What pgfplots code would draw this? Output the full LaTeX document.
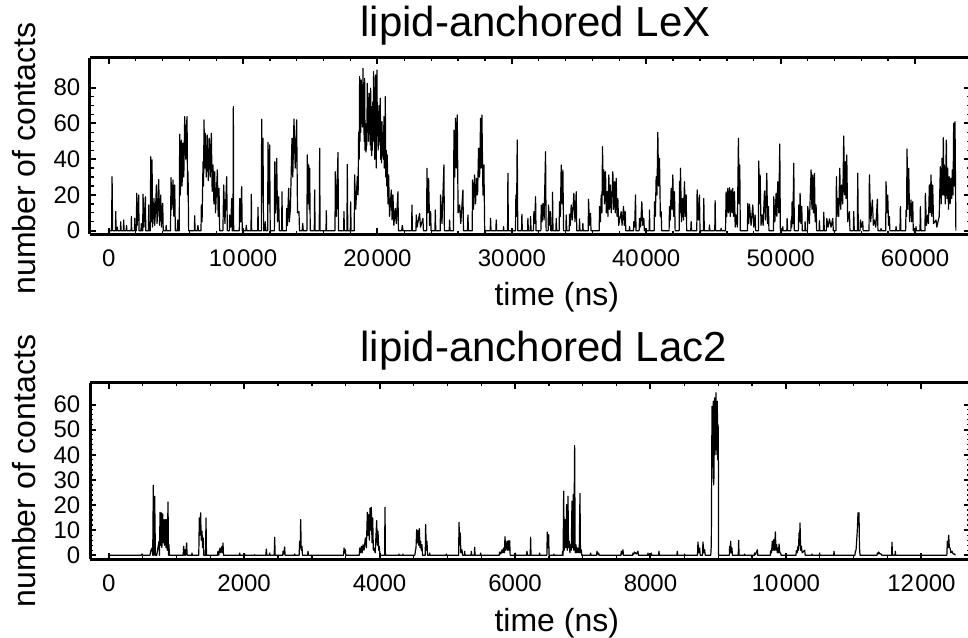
\documentclass[border=0pt]{standalone}
\usepackage{fontspec}
\setmainfont{Liberation Sans}
\usepackage{pgfplots}
\pgfplotsset{compat=1.18}
\pgfplotsset{
  mma/.style={
    scale only axis,
    width=880pt,
    anchor=south west,
    scaled x ticks=false, scaled y ticks=false,
    line width=3pt,
    separate axis lines,
    every outer x axis line/.append style={line width=3pt},
    every outer y axis line/.append style={line width=3pt},
    axis line style={line width=3pt},
    tick align=inside,
    major tick length=6pt,
    minor tick length=3.5pt,
    major tick style={line width=2pt,black},
    minor tick style={line width=1.3pt,black},
    tick label style={font=\fontsize{24}{24}\selectfont, inner sep=0pt},
    yticklabel style={anchor=east, xshift=-8.3pt},
    xticklabel style={anchor=north, yshift=-13.5pt},
    title style={anchor=base west, inner sep=0pt, font=\fontsize{42}{42}\selectfont},
    xlabel style={anchor=base west, inner sep=0pt, font=\fontsize{32}{32}\selectfont},
    ylabel style={anchor=base, inner sep=0pt, font=\fontsize{32}{32}\selectfont},
    xlabel={time (ns)},
    ylabel={number of contacts},
  },
  trace/.style={black, line width=1.2pt, line join=round, no markers},
}
\begin{document}
\begin{tikzpicture}
% ---------------- top panel ----------------
\begin{axis}[mma,
  at={(90pt,402.7pt)}, height=176.5pt,
  xmin=-1390, xmax=64092, ymin=-2.0, ymax=96.7,
  xtick={0,10000,20000,30000,40000,50000,60000},
  xticklabels={0,10\hspace{0.06em}000,20\hspace{0.06em}000,30\hspace{0.06em}000,40\hspace{0.06em}000,50\hspace{0.06em}000,60\hspace{0.06em}000},
  minor x tick num=4,
  ytick={0,20,40,60,80}, yticklabels={0,20,40,60,80},
  minor y tick num=3,
  title={lipid-anchored LeX},
  title style={at={(axis description cs:0.3057,1.0839)}},
  xlabel style={at={(axis description cs:0.458,-0.4006)}},
  ylabel style={at={(axis description cs:-0.0614,0.4295)}},
]
\addplot[trace] coordinates {
(0,0)(213,0)(253,30.2)(293,0)(500,0)(526,10.7)(552,0)(600,0)(640,2)(680,0)(870,0)(897,5)(924,0)(1095,0)(1120,6)(1145,0)(1300,0)(1330,3)(1360,0)(1665,0)(1690,8)(1715,0)(1914,0)(1939,7)(1964,0)(2060,0)(2087,20.9)(2120,3)(2236,20)(2260,0)(2400,0)(2430,4)(2460,0)(2530,0)(2558,20.4)(2620,2)(2732,19)(2760,0)(2955,0)(2980,14.4)(3000,0)(3100,0)(3128,41.4)(3170,5)(3228,39.6)(3260,2)(3300,8)(3376,18)(3420,3)(3480,10)(3550,25.6)(3600,4)(3650,12)(3724,28.7)(3780,3)(3820,9)(3872,20)(3930,2)(4021,15.3)(4060,0)(4250,0)(4280,3)(4310,0)(4600,0)(4640,29.7)(4700,12)(4789,28.4)(4850,8)(4913,25.6)(4960,0)(5100,0)(5140,6)(5180,0)(5250,0)(5285,54)(5330,20)(5409,50.7)(5460,25)(5533,48.9)(5590,30)(5657,63.8)(5730,40)(5760,55)(5831,63.8)(5870,20)(5905,33)(5950,0)(6380,0)(6401,8.4)(6430,0)(6600,0)(6640,3)(6680,0)(6870,0)(6897,14.4)(6950,5)(7021,38.6)(7060,25)(7095,62)(7140,35)(7194,54.5)(7260,30)(7343,53.5)(7410,28)(7492,51.7)(7560,30)(7640,54.5)(7700,22)(7764,36.8)(7830,15)(7888,33)(7950,10)(8087,34)(8150,8)(8211,23.7)(8260,0)(8500,0)(8558,25.6)(8650,4)(8781,30.2)(8830,0)(8980,0)(9004,8.8)(9080,2)(9153,18)(9200,0)(9250,0)(9277,69.4)(9300,0)(9720,0)(9748,18)(9820,5)(9896,24.6)(9940,0)(10200,0)(10240,3)(10280,0)(10590,0)(10615,20.4)(10640,0)(11085,0)(11111,13.1)(11140,0)(11360,0)(11384,62.3)(11430,20)(11483,51.7)(11520,0)(11600,0)(11650,5)(11700,0)(11830,0)(11855,49.4)(11910,15)(11979,48)(12020,0)(12330,0)(12351,38.6)(12420,10)(12500,40.5)(12570,5)(12648,19)(12700,0)(12870,0)(12896,21.8)(12930,0)(13220,0)(13243,12.5)(13300,3)(13392,23.7)(13440,5)(13520,12)(13640,51.7)(13700,30)(13788,62.5)(13880,35)(13987,62)(14050,10)(14160,10.7)(14200,0)(14400,0)(14440,4)(14480,0)(14750,0)(14780,42.4)(14830,15)(14879,36.8)(14920,12)(14955,34.9)(15000,0)(15300,0)(15327,22.8)(15360,0)(15670,0)(15699,46.1)(15730,0)(16170,0)(16194,11.2)(16220,0)(16840,0)(16864,33)(16950,8)(17062,43.8)(17100,0)(17480,0)(17508,10.7)(17540,0)(17730,0)(17756,37.1)(17790,0)(17980,0)(18004,16.2)(18040,0)(18270,0)(18302,31.2)(18380,12)(18500,30.2)(18560,20)
(18600,55)(18640,40)(18674,86.2)(18700,50)(18730,78)(18760,55)(18798,84.3)(18830,60)(18860,80)(18890,58)(18921,90.8)(18950,62)(18980,75)(19010,50)(19045,85.2)(19080,45)(19110,60)(19140,44)(19169,46.1)(19200,48)(19220,60)(19244,82.4)(19270,55)(19300,72)(19330,50)(19368,76.9)(19400,55)(19430,70)(19460,48)(19492,79.7)(19520,45)(19550,65)(19570,42)(19591,69.4)(19620,45)(19650,72)(19680,52)(19715,89)(19740,50)(19770,80)(19800,40)(19830,70)(19864,87.1)(19890,45)(19910,35)(19935,75)(19963,89.9)(19990,55)(20020,70)(20050,45)(20087,66.6)(20120,50)(20150,70)(20180,48)(20211,74.1)(20240,40)(20270,58)(20300,38)(20335,61)(20370,42)(20400,55)(20440,40)(20484,63.8)(20510,35)(20540,60)(20560,40)(20583,75)(20620,30)(20650,45)(20690,25)(20732,42.4)(20780,15)(20831,31.2)(20900,8)(21029,22.8)(21090,6)(21153,20)(21220,3)(21327,12.5)(21400,4)(21525,21.8)(21560,0)
(21800,0)(21850,3)(21900,0)(22540,0)(22566,14.4)(22600,0)(22860,0)(22888,8.8)(22950,2)(23136,9.7)(23200,2)(23384,6.9)(23420,0)(23660,0)(23682,34.9)(23740,10)(23806,29.3)(23880,3)(23955,10.7)(23990,0)(24280,0)(24302,11.6)(24340,0)(24670,0)(24698,20)(24800,4)(24946,36.8)(24980,0)(25340,0)(25368,6)(25400,0)(25660,0)(25690,56.3)(25750,30)(25814,62.9)(25870,35)(25938,64.7)(26000,10)(26111,14.4)(26200,4)(26359,22.8)(26400,0)(26700,0)(26731,8.8)(26770,0)(27050,0)(27078,28.4)(27150,12)(27227,31.2)(27300,15)(27376,29.3)(27450,20)(27524,46.1)(27600,30)(27673,62.9)(27720,35)(27772,64.7)(27850,20)(27921,36.8)(27980,0)(28390,0)(28416,6.9)(28450,0)(28810,0)(28838,6)(28870,0)(29360,0)(29383,2.3)(29410,0)(29680,0)(29706,32.1)(29740,0)(30270,0)(30301,20)(30350,8)(30400,50.7)(30440,0)(30720,0)(30747,9.2)(30780,0)(31170,0)(31193,6.9)(31230,0)(31370,0)(31392,7.9)(31430,0)(31610,0)(31640,10.7)(31700,4)(31764,19)(31800,0)(32160,0)(32186,14.4)(32250,5)(32310,15.3)(32400,6)(32508,44.2)(32550,0)(32700,0)(32731,14.4)(32800,3)(32855,10.7)(32900,0)(33000,0)(33029,21.5)(33060,0)(33280,0)(33301,6.9)(33340,0)(33520,0)(33549,16.2)(33610,8)(33673,36.8)(33740,15)(33797,34)(33850,0)(34020,0)(34045,8.8)(34090,0)(34270,0)(34293,9.2)(34350,3)(34417,14.4)(34500,6)(34615,20.9)(34700,5)(34789,21.8)(34830,0)(35010,0)(35037,6.6)(35070,0)(35260,0)(35285,4.1)(35310,0)(35680,0)(35706,17.6)(35780,3)(35855,9.7)(35890,0)
(36500,0)(36524,13.5)(36590,5)(36648,20)(36700,10)(36747,47)(36800,20)(36846,34)(36900,15)(36970,33)(37030,10)(37094,21.8)(37150,8)(37218,31.2)(37260,12)(37317,25.6)(37400,10)(37515,33)(37570,12)(37639,27.4)(37700,10)(37763,29.3)(37830,8)(37887,18)(37950,3)(38135,10.7)(38200,3)(38309,13.5)(38370,3)(38433,10.7)(38480,0)(38730,0)(38755,2.3)(38790,0)(39050,0)(39077,5.1)(39140,2)(39201,20)(39240,0)(39470,0)(39499,6.9)(39580,2)(39672,16.2)(39740,3)(39821,6.9)(39860,0)(40220,0)(40242,11.6)(40270,0)(40590,0)(40614,16.2)(40680,8)(40738,30.2)(40800,20)(40862,55)(40920,25)(40986,40.5)(41050,8)(41110,10.7)(41150,0)(41700,0)(41730,13.5)(41790,6)(41854,23.7)(41920,12)(41978,31.2)(42040,8)(42102,21.8)(42150,0)(42450,0)(42474,27.4)(42510,10)(42548,34.9)(42620,5)(42697,18)(42770,6)(42846,27.4)(42900,8)(42969,20)(43010,0)(43310,0)(43341,5.1)(43370,0)(43760,0)(43787,22.8)(43870,6)(43961,20)(44000,0)(44250,0)(44283,18)(44320,0)(44680,0)(44705,3.2)(44730,0)(45100,0)(45126,16.8)(45160,0)(45540,0)(45572,1.3)(45600,0)(45900,0)(45944,21.8)(45990,8)(46068,23.7)(46120,10)(46192,24)(46250,8)(46316,22.8)(46380,10)(46440,23.7)(46500,8)(46564,21.8)(46620,2)(46688,8.8)(46780,2)(46861,51.7)(46910,15)(46960,36.8)(47000,0)
(47530,0)(47555,15.3)(47620,4)(47681,14.8)(47800,3)(47929,14.4)(48000,2)(48102,8.8)(48140,0)(48350,0)(48375,39)(48420,15)(48474,31.2)(48540,3)(48623,8.8)(48700,3)(48796,22.2)(48880,6)(48970,32.1)(49030,4)(49094,13.5)(49130,0)(49470,0)(49491,19)(49570,5)(49664,20.9)(49720,8)(49788,27.4)(49860,10)(49937,48.5)(49980,0)(50140,0)(50160,2.3)(50190,0)(50460,0)(50482,6.9)(50520,0)(50760,0)(50780,6)(50820,2)(50854,16.2)(50910,4)(50978,37.7)(51020,0)(51320,0)(51350,14.4)(51400,5)(51449,20.9)(51510,4)(51573,13.5)(51610,0)(51800,0)(51821,5.1)(51850,0)(51990,0)(52019,13.5)(52140,4)(52267,34)(52330,12)(52391,31.2)(52450,10)(52515,32.1)(52570,5)(52639,14.4)(52680,0)(52860,0)(52887,5.6)(52920,0)(53180,0)(53209,10.3)(53250,0)(53400,0)(53432,6.9)(53530,2)(53631,6.6)(53750,2)(53879,6.9)(53920,0)(54120,0)(54151,30.2)(54200,8)(54250,18)(54320,8)(54399,34.9)(54470,12)(54548,25.6)(54620,15)(54696,53)(54760,20)(54820,38.6)(54870,18)(54920,42.4)(54990,5)(55118,10.7)(55160,0)(55410,0)(55440,10.7)(55480,0)(55710,0)(55738,32.1)(55780,0)(55910,0)(55936,6)(56020,2)(56110,5.1)(56140,0)(56580,0)(56605,31.2)(56700,5)(56828,17.2)(56900,3)(56977,6)(57080,2)(57200,17.7)(57240,0)(57450,0)(57473,1.3)(57500,0)(57820,0)(57845,27.4)(57900,10)(57969,20)(58030,3)(58093,7.9)(58130,0)(58560,0)(58589,2.3)(58620,0)(58880,0)(58911,13.5)(58950,0)(59300,0)(59332,11.6)(59370,8)(59407,45.7)(59460,12)(59530,34.9)(59600,5)(59704,17.2)(59760,5)(59828,16.2)(59870,0)(60050,0)(60075,2.3)(60100,0)(60370,0)(60399,13.5)(60440,0)(60740,0)(60770,20.9)(60850,3)(60944,8.8)(61000,4)(61067,25.6)(61130,10)(61191,31.2)(61250,8)(61315,25.6)(61380,4)(61563,6)(61620,2)(61800,8)(61885,35.8)(61950,15)(62009,40.5)(62060,20)(62108,52.1)(62150,20)(62183,36.8)(62250,15)(62331,50.7)(62380,18)(62430,34.9)(62490,12)(62554,30.2)(62610,15)(62678,29.3)(62730,18)(62777,34)(62830,20)(62876,60.1)(62920,25)(62975,61)(63040,0)
};
\end{axis}
% ---------------- bottom panel ----------------
\begin{axis}[mma,
  at={(90pt,77.7pt)}, height=176.3pt,
  xmin=-276, xmax=12718, ymin=-1.6, ymax=68.6,
  xtick={0,2000,4000,6000,8000,10000,12000},
  xticklabels={0,2000,4000,6000,8000,10\hspace{0.06em}000,12\hspace{0.06em}000},
  minor x tick num=3,
  ytick={0,10,20,30,40,50,60}, yticklabels={0,10,20,30,40,50,60},
  minor y tick num=4,
  title={lipid-anchored Lac2},
  title style={at={(axis description cs:0.3057,1.089)}},
  xlabel style={at={(axis description cs:0.458,-0.408)}},
  ylabel style={at={(axis description cs:-0.0614,0.5009)}},
]
\addplot[trace] coordinates {
(0,0)(480,0)(492,0.5)(505,0)(610,0)(620,1.6)(640,2.9)(650,0)(659,27.9)(665,0)(672,0)(679,23.5)(690,0)(710,0)(718,1.6)(743,5.6)(750,0)(758,17.1)(765,4)(777,16.9)(785,3)(797,16.5)(805,5)(817,14.2)(824,4)(836,14.2)(845,3)(856,14.2)(865,2)(876,21.2)(883,0)(890,4.2)(897,0)
(1100,0)(1107,3.6)(1115,0)(1127,2.2)(1135,0)(1151,4.9)(1158,0)(1225,0)(1230,0.9)(1235,0)(1330,0)(1338,14.9)(1345,8)(1358,16.9)(1366,6)(1378,9.6)(1386,3)(1397,6.9)(1405,0)(1430,0)(1437,14.9)(1444,0)(1605,0)(1614,1.6)(1625,0)(1643,2.9)(1655,1)(1673,3.6)(1680,1)(1688,4.9)(1695,0)(1930,0)(1934,0.9)(1940,0)(2004,0)(2008,0.5)(2012,0)(2150,0)(2155,0.2)(2160,0)(2320,0)(2328,2.5)(2335,0)(2372,0)(2377,0.9)(2382,0)(2444,0)(2451,7.2)(2458,0)(2570,0)(2574,1.6)(2585,0.5)(2598,3.3)(2605,0)(2740,0)(2746,0.5)(2752,0)(2812,0)(2820,5.6)(2828,3)(2835,14.2)(2843,2)(2854,3.6)(2861,0)(2936,0)(2943,1.6)(2950,0)
(3468,0)(3475,2.9)(3485,1)(3494,2.2)(3501,0)(3700,0)(3706,2.9)(3720,1)(3731,3.6)(3742,1)(3755,4.2)(3770,2)(3790,6.9)(3805,3)(3819,17.1)(3829,8)(3839,16.2)(3849,6)(3859,18.8)(3869,10)(3878,19.1)(3888,5)(3898,14.9)(3908,2)(3918,2.9)(3935,1)(3957,13.8)(3967,4)(3977,9.6)(3987,2)(3996,3.6)(4005,0)(4074,0)(4080,19.1)(4086,0)(4283,0)(4287,0.5)(4291,0)(4342,0)(4346,0.5)(4350,0)(4520,0)(4528,1.6)(4538,3)(4548,10.2)(4558,5)(4567,9.8)(4577,4)(4587,10.6)(4597,3)(4607,5.6)(4616,2)(4626,4.2)(4634,0)(4674,0)(4680,12.2)(4690,2)(4700,5.6)(4708,0)(4736,0)(4740,0.9)(4744,0)(4982,0)(4986,0.5)(4990,0)(5167,0)(5173,13.1)(5182,4)(5192,8.9)(5200,1)(5217,2.2)(5224,0)(5250,0)(5256,1.6)(5262,0)(5349,0)(5355,1.6)(5361,0)(5398,0)(5404,3.2)(5410,0)(5488,0)(5493,0.9)(5498,0)(5766,0)(5773,1.3)(5790,0.5)(5808,2.2)(5820,1)(5832,2.9)(5842,1)(5852,7.4)(5862,2)(5882,5.6)(5890,2)(5901,5.8)(5910,2)(5921,5.8)(5928,0)(6000,0)(6005,0.9)(6010,0)(6170,0)(6177,1.6)(6184,0)
(6224,0)(6230,7.2)(6236,0)(6358,0)(6363,0.9)(6368,0)(6470,0)(6476,9.3)(6484,3)(6496,8.2)(6503,0)(6570,0)(6575,0.5)(6580,0)(6698,0)(6703,1.6)(6710,0)(6718,25.5)(6726,2)(6742,14.2)(6750,3)(6762,20.2)(6770,2)(6782,23.5)(6790,3)(6801,5.6)(6810,1)(6821,4.2)(6830,2)(6841,21.5)(6849,3)(6860,24.2)(6868,2)(6880,43.7)(6888,1)(6900,4.2)(6910,1)(6919,2.9)(6929,1)(6939,2.9)(6948,1)(6959,24.6)(6966,1)(6979,2.2)(6986,0)(7110,0)(7116,0.9)(7122,0)(7204,0)(7210,1.6)(7222,0.3)(7235,0.9)(7241,0)(7563,0)(7569,1.6)(7580,0.5)(7594,2.2)(7600,0)(7736,0)(7741,0.9)(7753,0.4)(7766,1.3)(7790,0.5)(7815,1.6)(7822,0)(7958,0)(7963,0.9)(7968,0)(8007,0)(8012,0.9)(8017,0)(8119,0)(8125,1.6)(8131,0)(8390,0)(8396,1.6)(8402,0)(8500,0)(8504,0.5)(8508,0)(8694,0)(8701,5.3)(8712,1)(8726,2.9)(8735,0)(8768,0)(8775,5.3)(8788,1)(8800,2.2)(8808,0)
(8890,0)(8898,4.2)(8903,30)(8908,59.3)(8913,40)(8918,56)(8923,35)(8928,61.3)(8932,28)(8937,30.8)(8942,50)(8947,62.7)(8952,40)(8957,58.7)(8962,45)(8967,64.7)(8972,42)(8977,60)(8982,40)(8987,61.3)(8992,38)(8997,52)(9002,50)(9005,0)(9164,0)(9169,3.6)(9176,1)(9184,5.6)(9192,1)(9203,2.9)(9210,0)(9296,0)(9302,6)(9308,0)(9386,0)(9390,0.5)(9394,0)(9534,0)(9538,0.9)(9550,0.3)(9578,2.2)(9585,0)(9770,0)(9775,1.8)(9787,1)(9799,5.6)(9809,2)(9819,6.2)(9830,2)(9844,9.3)(9853,2)(9863,4.2)(9873,1)(9883,2.9)(9890,1)(9898,4.5)(9910,1)(9922,0.9)(9928,0)(10148,0)(10154,1.8)(10165,1)(10178,3.6)(10186,2)(10193,8.9)(10200,4)(10208,12.9)(10217,2)(10228,3.6)(10240,1)(10277,2)(10284,0)(10380,0)(10385,0.5)(10390,0)(10493,0)(10498,0.9)(10503,0)(10705,0)(10710,1.6)(10716,0)(11018,0)(11025,1.6)(11035,2)(11044,5.6)(11054,10)(11064,16.9)(11071,12)(11079,16.9)(11086,3)(11094,0)(11345,0)(11350,0.9)(11360,0.5)(11369,1.3)(11390,0.5)(11409,0.5)(11415,0)(11560,0)(11566,5.2)(11573,0)(11610,0)(11615,1.6)(11620,0)(12376,0)(12383,5.6)(12393,3)(12403,8)(12413,3)(12423,2.9)(12435,1)(12452,1.6)(12470,0.5)(12492,0.5)(12500,0)
};
\end{axis}
\pgfresetboundingbox
\useasboundingbox (0pt,0pt) rectangle (968pt,637pt);
\end{tikzpicture}
\end{document}
